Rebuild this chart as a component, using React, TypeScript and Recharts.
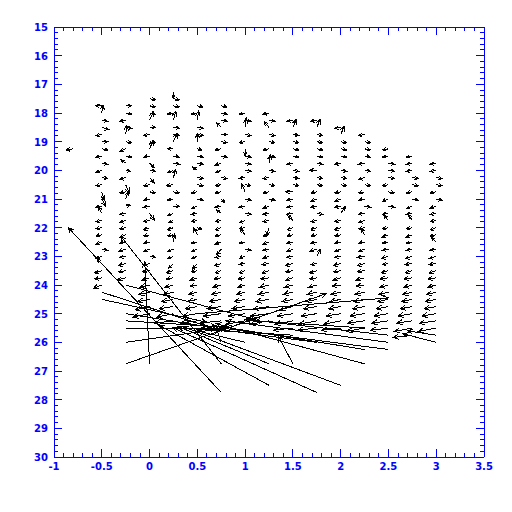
import React from 'react';
import { ComposedChart, Line, XAxis, YAxis } from 'recharts';

// Axis tick labels
const X_LABELS = [-1, -0.5, 0, 0.5, 1, 1.5, 2, 2.5, 3, 3.5];
const Y_LABELS = [15, 16, 17, 18, 19, 20, 21, 22, 23, 24, 25, 26, 27, 28, 29, 30];

// Grid columns of the vector field
const COLUMN_X = [-0.5, -0.25, 0, 0.25, 0.5, 0.75, 1.0, 1.25, 1.5, 1.75, 2.0, 2.25, 2.5, 2.75, 3.0];
const COLUMN_TOP = [17.75, 17.75, 17.5, 17.25, 17.75, 17.75, 18.0, 18.0, 18.25, 18.25, 18.5, 18.75, 19.25, 19.5, 19.75];
const ROW_STEP = 0.25;

// vector components [u, v] (u: +right, v: +down), one entry per row
const colM050 = [[-5,0],[1,-7],[5,1],[6,2],[-5,1],[5,0],[5,1],[-5,1],[5,1],[-5,2],[5,1],[-5,1],[2,7],[3,6],[-5,1],[-3,-6],[-5,1],[-5,1],[-5,1],[-5,2],[5,1],[-5,2],[-4,-4],[-6,2],[-6,1],[-7,3]];
const colM025 = [[5,0],[5,1],[-5,1],[5,1],[1,-8],[5,1],[-5,2],[5,1],[-4,-3],[4,1],[-5,2],[3,7],[-5,1],[2,-6],[4,-1],[-5,1],[-5,2],[-5,1],[-5,2],[-5,1],[-6,2],[-5,1],[-6,2],[-6,1],[-7,2]];
const col000 = [[5,1],[5,1],[5,1],[3,-7],[5,0],[-5,1],[5,1],[3,-7],[-5,1],[4,4],[5,1],[4,5],[-5,1],[5,1],[-5,1],[-5,1],[4,6],[-5,1],[-5,2],[-5,1],[-5,1],[-5,2],[5,1],[-5,2],[-6,1],[-6,2],[-8,2],[-9,2],[-10,2],[-12,3],[-14,3]];
const col025 = [[0,6],[5,1],[5,1],[-5,1],[2,-8],[5,1],[5,1],[3,-7],[-5,0],[5,1],[5,1],[-5,2],[2,-7],[-6,1],[5,1],[-5,1],[5,0],[-5,2],[-4,2],[-5,2],[-5,1],[1,-7],[-5,2],[-5,2],[-4,4],[-6,2],[-6,1],[-7,2],[-8,2],[-10,2],[-12,2],[-14,3],[-16,2]];
const col050 = [[5,1],[-5,1],[1,-8],[5,1],[5,1],[0,-7],[4,1],[5,1],[5,1],[-4,-3],[5,1],[5,1],[-5,1],[5,1],[-5,2],[-5,1],[-5,1],[4,2],[-3,-6],[-5,1],[-5,2],[-5,2],[-4,5],[-5,1],[-6,2],[-6,1],[-7,2],[-8,2],[-10,2],[-12,2],[-14,2]];
const col075 = [[5,1],[5,1],[5,1],[-4,-4],[5,0],[5,1],[-5,1],[5,1],[-5,2],[-5,2],[5,1],[-5,1],[-5,1],[3,3],[-5,1],[-4,-3],[-5,1],[-5,2],[-5,1],[-5,2],[-4,5],[-5,1],[-6,2],[-5,2],[-6,1],[-7,2],[-8,2],[-10,2],[-12,2],[-15,2],[-18,2]];
const col100 = [[-5,1],[5,1],[1,-8],[5,1],[-5,1],[0,6],[5,1],[5,1],[5,1],[-5,1],[5,1],[-3,-7],[5,1],[-5,1],[5,1],[-5,2],[-5,1],[-4,-5],[-5,1],[5,1],[-5,2],[-5,1],[-5,2],[-6,1],[-6,2],[-7,2],[-9,2],[-11,2],[-14,2],[-16,3]];
const col125 = [[-5,1],[5,1],[-4,-5],[5,1],[5,1],[-5,1],[5,1],[1,-7],[5,1],[-5,1],[5,1],[-5,1],[5,1],[-5,2],[-5,1],[-5,1],[-2,7],[-5,1],[-5,2],[-5,1],[-5,2],[-6,1],[-6,2],[-7,1],[-8,2],[-9,2],[-11,2],[-13,2],[-15,2],[-16,3]];
const col150 = [[-5,1],[3,-7],[5,1],[5,1],[5,1],[5,1],[-5,1],[5,1],[5,1],[5,1],[-6,0],[-5,1],[-5,1],[-5,1],[-4,-4],[-5,2],[-5,1],[-5,1],[-5,2],[-5,1],[-6,2],[-6,1],[-6,2],[-7,2],[-8,2],[-9,2],[-11,3],[-13,2],[-15,3],[-16,2]];
const col175 = [[-5,1],[3,-7],[5,1],[5,1],[5,1],[5,1],[5,1],[-6,0],[5,1],[5,1],[-5,1],[-5,2],[-5,1],[5,1],[-5,1],[-5,2],[-5,1],[-5,1],[-6,2],[3,-6],[-5,1],[-6,2],[-6,1],[-7,2],[-8,2],[-9,2],[-11,2],[-13,2],[-15,3],[-16,2]];
const col200 = [[-5,1],[3,-7],[5,1],[5,1],[5,1],[-5,1],[5,1],[5,1],[5,1],[-5,1],[-5,2],[-5,1],[4,-6],[-5,1],[-5,2],[-5,1],[-5,1],[-5,2],[-5,1],[-6,2],[-6,1],[-6,2],[-7,1],[-8,2],[-9,2],[-10,2],[-12,2],[-14,3],[-16,2]];
const col225 = [[-5,1],[5,1],[5,1],[5,1],[-5,1],[5,1],[-5,2],[5,1],[-5,1],[-5,1],[5,1],[-5,1],[-5,2],[-5,1],[-3,-6],[-5,1],[-5,2],[-6,1],[-6,2],[-6,1],[-7,2],[-7,1],[-8,2],[-9,2],[-10,2],[-12,2],[-14,2],[-15,3]];
const col250 = [[-5,1],[-5,1],[5,1],[5,1],[5,1],[-5,1],[5,1],[-5,2],[5,1],[-5,1],[-4,-5],[-5,1],[-5,2],[-5,1],[-5,1],[-6,2],[-5,1],[-6,2],[-7,1],[-7,2],[-8,2],[-9,2],[-10,2],[-12,2],[-14,2],[-15,2]];
const col275 = [[-5,1],[-5,1],[-5,1],[5,1],[5,1],[-5,1],[5,1],[-5,2],[-5,1],[-3,-5],[-5,1],[-5,2],[-5,1],[-5,1],[-6,2],[-6,1],[-6,2],[-7,1],[-7,2],[-8,2],[-9,2],[-10,2],[-12,2],[-13,2],[-15,3],[-16,2]];
const col300 = [[-5,1],[-5,1],[5,1],[5,1],[-5,1],[5,1],[-5,2],[-5,1],[-5,1],[-5,2],[-5,1],[-4,-4],[-5,1],[-6,2],[-6,1],[-6,2],[-7,1],[-7,2],[-8,2],[-9,2],[-10,2],[-12,2],[-14,2],[-15,3]];
const COLUMNS = [colM050, colM025, col000, col025, col050, col075, col100, col125, col150, col175, col200, col225, col250, col275, col300];

// isolated vector
const LONE = [-0.8, 19.25, -6, 1];

// large vectors: tail x, tail y, head x, head y
const LONG = [
  [0.75, 27.75, -0.85, 22.0],
  [0.75, 26.75, -0.3, 22.3],
  [0.0, 26.75, -0.05, 23.2],
  [1.25, 27.5, 0.1, 25.4],
  [1.75, 27.75, 0.25, 25.5],
  [2.0, 27.5, 0.35, 25.45],
  [2.5, 26.25, 0.75, 25.5],
  [2.25, 26.75, 0.7, 25.35],
  [2.25, 26.25, 0.75, 25.45],
  [1.75, 26.0, 0.6, 25.5],
  [2.5, 26.0, 0.8, 25.25],
  [1.25, 26.75, 0.3, 25.45],
  [3.0, 26.0, 2.65, 25.7],
  [3.0, 25.75, 2.7, 25.6],
  [2.5, 25.75, 1.0, 25.2],
  [2.25, 25.5, 1.1, 25.25],
  [-0.25, 26.75, 1.85, 24.3],
  [0.5, 25.0, 2.5, 24.45],
  [-0.5, 24.5, 0.6, 25.3],
  [-0.5, 24.25, 0.7, 25.55],
  [-0.25, 24.0, 1.1, 25.2],
  [-0.25, 25.0, 0.6, 25.45],
  [-0.25, 25.25, 0.7, 25.45],
  [-0.25, 25.5, 0.75, 25.5],
  [-0.25, 26.0, 0.8, 25.5],
  [1.5, 26.75, 1.35, 25.8],
  [0.0, 25.5, 0.75, 25.55],
  [1.5, 25.75, 0.5, 25.55],
  [1.0, 26.0, 0.5, 25.6],
  [0.75, 26.0, 0.7, 25.5],
];

// conversion of vector components to axis units
const VEC_SCALE_X = 0.0125;
const VEC_SCALE_Y = 0.04;

const BLUE = '#0000ff';
const FONT = 'DejaVu Sans';

type P = { x: number; y: number | null; head?: boolean };

function buildData(): P[] {
  const out: P[] = [];
  const push = (x0: number, y0: number, x1: number, y1: number) => {
    out.push({ x: x0, y: y0 });
    out.push({ x: x1, y: y1, head: true });
    out.push({ x: x1, y: null });
  };
  COLUMNS.forEach((col, i) => {
    col.forEach((vec, j) => {
      const x0 = COLUMN_X[i];
      const y0 = COLUMN_TOP[i] + j * ROW_STEP;
      push(x0, y0, x0 + vec[0] * VEC_SCALE_X, y0 + vec[1] * VEC_SCALE_Y);
    });
  });
  push(LONE[0], LONE[1], LONE[0] + LONE[2] * VEC_SCALE_X, LONE[1] + LONE[3] * VEC_SCALE_Y);
  LONG.forEach((v) => push(v[0], v[1], v[2], v[3]));
  return out;
}

const DATA = buildData();

const X_TICKS: number[] = [];
for (let i = 0; i <= 45; i++) X_TICKS.push(Math.round((-1 + i * 0.1) * 10) / 10);
const Y_TICKS: number[] = [];
for (let i = 0; i <= 75; i++) Y_TICKS.push(Math.round((15 + i * 0.2) * 10) / 10);

const isXMajor = (v: number) => X_LABELS.some((m) => Math.abs(m - v) < 1e-6);
const isYMajor = (v: number) => Y_LABELS.some((m) => Math.abs(m - v) < 1e-6);

const BottomTick = (p: any) => {
  const { x, y, payload } = p;
  const major = isXMajor(payload.value);
  return (
    <g>
      <line x1={x} y1={y} x2={x} y2={y - (major ? 8 : 4)} stroke={BLUE} shapeRendering="crispEdges" />
      {major && (
        <text x={x} y={y + 13} textAnchor="middle" fill={BLUE} fontFamily={FONT} fontSize={10} fontWeight="bold">
          {String(payload.value)}
        </text>
      )}
    </g>
  );
};
const TopTick = (p: any) => {
  const { x, y, payload } = p;
  const major = isXMajor(payload.value);
  return <line x1={x} y1={y} x2={x} y2={y + (major ? 8 : 4)} stroke={BLUE} shapeRendering="crispEdges" />;
};
const LeftTick = (p: any) => {
  const { x, y, payload } = p;
  const major = isYMajor(payload.value);
  return (
    <g>
      <line x1={x} y1={y} x2={x + (major ? 8 : 4)} y2={y} stroke={BLUE} shapeRendering="crispEdges" />
      {major && (
        <text x={x - 6} y={y + 4} textAnchor="end" fill={BLUE} fontFamily={FONT} fontSize={10} fontWeight="bold">
          {String(payload.value)}
        </text>
      )}
    </g>
  );
};
const RightTick = (p: any) => {
  const { x, y, payload } = p;
  const major = isYMajor(payload.value);
  return <line x1={x} y1={y} x2={x - (major ? 8 : 4)} y2={y} stroke={BLUE} shapeRendering="crispEdges" />;
};

const renderHead = (p: any) => {
  const { index, cx, cy, points, payload } = p;
  if (!payload || !payload.head || cx == null || cy == null || !points || !points[index - 1]) {
    return <g key={`h${index}`} />;
  }
  const t = points[index - 1];
  const dx = cx - t.x;
  const dy = cy - t.y;
  const len = Math.hypot(dx, dy);
  if (len < 0.01) return <g key={`h${index}`} />;
  const ux = dx / len;
  const uy = dy / len;
  const h = Math.min(6, Math.max(4, len * 0.6));
  const a = (25 * Math.PI) / 180;
  const c = Math.cos(a);
  const s = Math.sin(a);
  const ax = cx - h * (c * ux - s * uy);
  const ay = cy - h * (c * uy + s * ux);
  const bx = cx - h * (c * ux + s * uy);
  const by = cy - h * (c * uy - s * ux);
  return (
    <path
      key={`h${index}`}
      d={`M${ax},${ay}L${cx},${cy}L${bx},${by}`}
      stroke="#000"
      strokeWidth={1}
      fill="none"
      shapeRendering="crispEdges"
    />
  );
};

export default function App() {
  return (
    <ComposedChart width={512} height={512} data={DATA} margin={{ top: 0, right: 0, bottom: 33, left: 0 }}>
      <XAxis
        xAxisId="b"
        orientation="bottom"
        type="number"
        dataKey="x"
        domain={[-1, 3.5]}
        ticks={X_TICKS}
        interval={0}
        tick={<BottomTick />}
        tickSize={0}
        tickMargin={0}
        tickLine={false}
        axisLine={{ stroke: BLUE, shapeRendering: 'crispEdges' }}
        height={30}
        allowDataOverflow
      />
      <XAxis
        xAxisId="t"
        orientation="top"
        type="number"
        dataKey="x"
        domain={[-1, 3.5]}
        ticks={X_TICKS}
        interval={0}
        tick={<TopTick />}
        tickSize={0}
        tickMargin={0}
        tickLine={false}
        axisLine={{ stroke: BLUE, shapeRendering: 'crispEdges' }}
        height={19}
        allowDataOverflow
      />
      <YAxis
        yAxisId="l"
        orientation="left"
        type="number"
        domain={[15, 30]}
        reversed
        ticks={Y_TICKS}
        interval={0}
        tick={<LeftTick />}
        tickSize={0}
        tickMargin={0}
        tickLine={false}
        axisLine={{ stroke: BLUE, shapeRendering: 'crispEdges' }}
        width={46}
        allowDataOverflow
      />
      <YAxis
        yAxisId="r"
        orientation="right"
        type="number"
        domain={[15, 30]}
        reversed
        ticks={Y_TICKS}
        interval={0}
        tick={<RightTick />}
        tickSize={0}
        tickMargin={0}
        tickLine={false}
        axisLine={{ stroke: BLUE, shapeRendering: 'crispEdges' }}
        width={36}
        allowDataOverflow
      />
      <Line
        xAxisId="b"
        yAxisId="l"
        dataKey="y"
        type="linear"
        stroke="#000"
        strokeWidth={1}
        shapeRendering="crispEdges"
        dot={renderHead}
        activeDot={false}
        connectNulls={false}
        isAnimationActive={false}
      />
    </ComposedChart>
  );
}
